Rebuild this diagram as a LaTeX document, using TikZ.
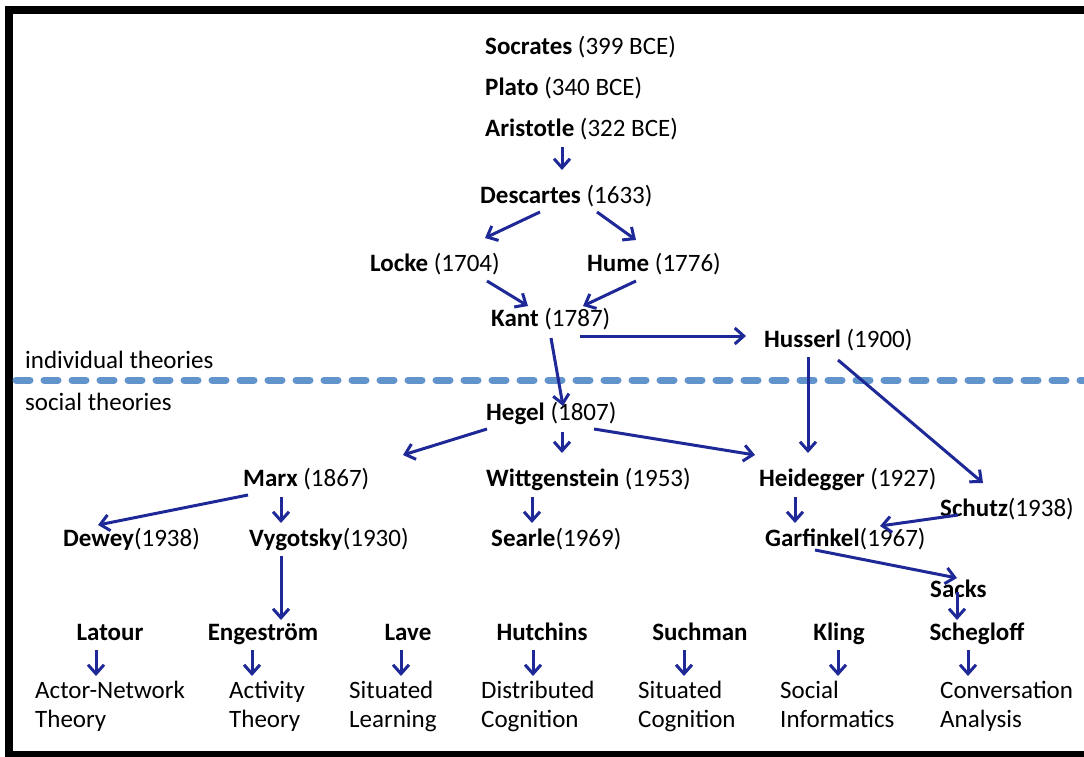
\documentclass[tikz,border=0pt]{standalone}
\usepackage{fontspec}
\setmainfont{Carlito}
\usetikzlibrary{arrows.meta}
\definecolor{arrblue}{RGB}{30,40,150}
\definecolor{splitblue}{RGB}{96,148,202}
\tikzset{
  phil/.style={anchor=base west,inner sep=0pt},
  arr/.style={draw=arrblue,line width=3pt,-{Straight Barb[length=9pt,width=16pt]}},
}
\begin{document}
\begin{tikzpicture}[x=1pt,y=-1pt,font=\fontsize{25}{29}\selectfont]
\useasboundingbox (0,0) rectangle (1084,757);
\draw[line width=8pt] (9,10) rectangle (1100,755);
\draw[splitblue,line width=7pt,line cap=round,dash pattern=on 14pt off 14pt] (16,380) -- (1084,380);
\node[phil] at (25,368) {individual theories};
\node[phil] at (25,410) {social theories};
% individual theories
\node[phil] (soc) at (485,55) {\textbf{Socrates} (399 BCE)};
\node[phil] (plato) at (485,96) {\textbf{Plato} (340 BCE)};
\node[phil] (aris) at (485,137) {\textbf{Aristotle} (322 BCE)};
\node[phil] (desc) at (480,203) {\textbf{Descartes} (1633)};
\node[phil] (locke) at (370,271) {\textbf{Locke} (1704)};
\node[phil] (hume) at (587,271) {\textbf{Hume} (1776)};
\node[phil] (kant) at (491,326) {\textbf{Kant} (1787)};
\node[phil] (huss) at (764,347) {\textbf{Husserl} (1900)};
% social theories
\node[phil] (hegel) at (486,420) {\textbf{Hegel} (1807)};
\node[phil] (marx) at (243,486) {\textbf{Marx} (1867)};
\node[phil] (witt) at (486,486) {\textbf{Wittgenstein} (1953)};
\node[phil] (heid) at (759,486) {\textbf{Heidegger} (1927)};
\node[phil] (schutz) at (940,516) {\textbf{Schutz}(1938)};
\node[phil] (dewey) at (63,546) {\textbf{Dewey}(1938)};
\node[phil] (vyg) at (249,546) {\textbf{Vygotsky}(1930)};
\node[phil] (searle) at (491,546) {\textbf{Searle}(1969)};
\node[phil] (garf) at (765,546) {\textbf{Garfinkel}(1967)};
\node[phil] (sacks) at (930,597) {\textbf{Sacks}};
\draw[arr] ([shift={(77,10)}]aris.base west) -- ([shift={(82,-33)}]desc.base west);
\draw[arr] ([shift={(60,9)}]desc.base west) -- ([shift={(115,-33)}]locke.base west);
\draw[arr] ([shift={(117,9)}]desc.base west) -- ([shift={(49,-31)}]hume.base west);
\draw[arr] ([shift={(117,10)}]locke.base west) -- ([shift={(37,-20)}]kant.base west);
\draw[arr] ([shift={(49,10)}]hume.base west) -- ([shift={(92,-20)}]kant.base west);
\draw[arr] ([shift={(89,10)}]kant.base west) -- ([shift={(-18,-11)}]huss.base west);
\draw[arr] ([shift={(60,12)}]kant.base west) -- ([shift={(77,-14)}]hegel.base west);
\draw[arr] ([shift={(1,9)}]hegel.base west) -- ([shift={(160,-31)}]marx.base west);
\draw[arr] ([shift={(76,12)}]hegel.base west) -- ([shift={(76,-33)}]witt.base west);
\draw[arr] ([shift={(108,9)}]hegel.base west) -- ([shift={(-4,-31)}]heid.base west);
\draw[arr] ([shift={(44,10)}]huss.base west) -- ([shift={(49,-33)}]heid.base west);
\draw[arr] ([shift={(74,13)}]huss.base west) -- ([shift={(43,-33)}]schutz.base west);
\draw[arr] ([shift={(5,9)}]marx.base west) -- ([shift={(35,-21)}]dewey.base west);
\draw[arr] ([shift={(38,11)}]marx.base west) -- ([shift={(32,-23)}]vyg.base west);
\draw[arr] ([shift={(46,11)}]witt.base west) -- ([shift={(41,-23)}]searle.base west);
\draw[arr] ([shift={(36,11)}]heid.base west) -- ([shift={(30,-23)}]garf.base west);
\draw[arr] ([shift={(18,-1)}]schutz.base west) -- ([shift={(115,-20)}]garf.base west);
\draw[arr] ([shift={(50,4)}]garf.base west) -- ([shift={(27,-19)}]sacks.base west);
% founders and their theories
\foreach \i/\cx/\who/\ax/\bx/\what in {
  1/110/Latour/96/35/{Actor-Network\\Theory},
  2/263/Engeström/252/229/{Activity\\Theory},
  3/408/Lave/401/349/{Situated\\Learning},
  4/542/Hutchins/533/481/{Distributed\\Cognition},
  5/700/Suchman/684/638/{Situated\\Cognition},
  6/839/Kling/838/780/{Social\\Informatics},
  7/977/Schegloff/968/940/{Conversation\\Analysis}} {
  \node[anchor=base,inner sep=0pt,font=\fontsize{25}{29}\selectfont\bfseries] (who\i) at (\cx,640) {\who};
  \node[anchor=north west,inner sep=0pt,align=left] (what\i) at (\bx,681) {\what};
  \draw[arr] ([shift={({\ax-\cx},10)}]who\i.base) -- ([shift={({\ax-\bx},-5)}]what\i.north west);
}
\draw[arr] ([shift={(32,10)}]vyg.base west) -- ([shift={(18,-20)}]who2.base);
\draw[arr] ([shift={(27,-5)}]sacks.base west) -- ([shift={(-20,-20)}]who7.base);
\end{tikzpicture}
\end{document}
